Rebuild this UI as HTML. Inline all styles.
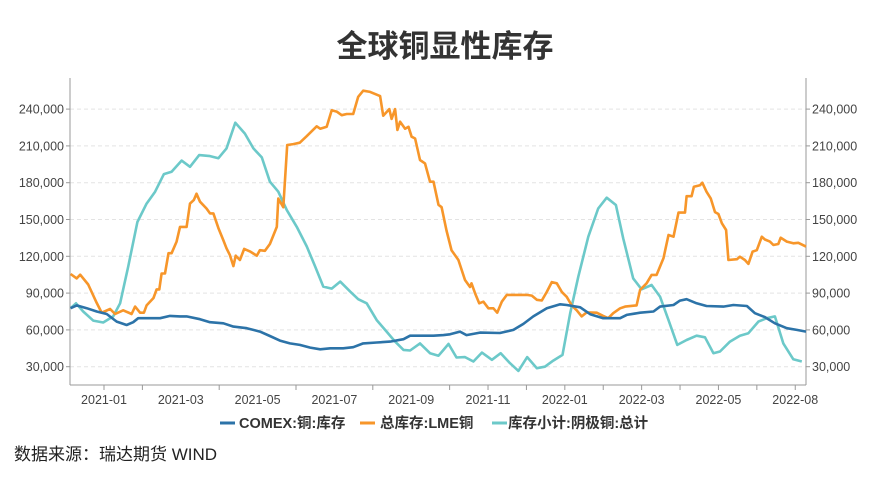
<!DOCTYPE html>
<html><head><meta charset="utf-8"><style>
body{margin:0;background:#fff;width:890px;height:477px;overflow:hidden;font-family:"Liberation Sans","Noto Sans CJK SC",sans-serif;}
svg text{font-family:"Liberation Sans","Noto Sans CJK SC",sans-serif;}
</style></head><body>
<svg id="chart" width="890" height="477" viewBox="0 0 890 477" xmlns="http://www.w3.org/2000/svg">
<text x="445" y="57" text-anchor="middle" font-size="31" font-weight="bold" fill="#333">全球铜显性库存</text>
<g id="grid"></g><g id="axes"></g><g id="series"></g>
<g>
 <g><line x1="220" y1="423" x2="235" y2="423" stroke="#2c73a8" stroke-width="3"/><text x="239" y="428" font-size="14.5" font-weight="bold" fill="#333">COMEX:铜:库存</text></g>
 <g><line x1="360" y1="423" x2="375" y2="423" stroke="#f7962a" stroke-width="3"/><text x="380" y="428" font-size="14.5" font-weight="bold" fill="#333">总库存:LME铜</text></g>
 <g><line x1="492" y1="423" x2="507" y2="423" stroke="#6cc9c9" stroke-width="3"/><text x="508" y="428" font-size="14.5" font-weight="bold" fill="#333">库存小计:阴极铜:总计</text></g>
</g>
<text x="14" y="460" font-size="17" fill="#222">数据来源：瑞达期货 WIND</text>
</svg>
<script>
// x values: months since 2021-01
const lmeT=[-0.87,-0.71,-0.62,-0.41,-0.19,-0.06,0.16,0.29,0.50,0.72,0.81,0.94,1.04,1.11,1.29,1.37,1.44,1.50,1.59,1.68,1.76,1.89,1.98,2.15,2.24,2.34,2.41,2.50,2.67,2.76,2.85,2.98,3.11,3.19,3.28,3.37,3.43,3.54,3.65,3.80,3.98,4.06,4.19,4.32,4.50,4.54,4.67,4.77,4.93,5.10,5.28,5.54,5.63,5.80,5.93,6.06,6.19,6.32,6.49,6.62,6.75,6.93,7.19,7.27,7.43,7.49,7.58,7.64,7.71,7.84,7.93,8.01,8.10,8.23,8.36,8.49,8.58,8.71,8.79,8.92,9.05,9.23,9.40,9.53,9.57,9.66,9.77,9.88,10.01,10.14,10.24,10.36,10.49,10.66,11.01,11.14,11.27,11.40,11.53,11.66,11.79,11.92,12.05,12.18,12.31,12.44,12.57,12.83,13.00,13.13,13.26,13.44,13.57,13.87,13.96,14.13,14.26,14.39,14.57,14.70,14.83,14.96,15.13,15.17,15.30,15.36,15.52,15.58,15.69,15.80,15.91,16.00,16.09,16.20,16.26,16.48,16.56,16.69,16.78,16.89,17.00,17.13,17.21,17.34,17.43,17.56,17.62,17.78,17.95,18.08,18.28];
const lmeV=[105.6,102,105,97,82,74,77,73,76,73,79,74,74,80,86,93,93,106,106,122.5,122.5,132,144,144,163,166,171,164.5,159,155,155,143,133,126.5,121,112,120.5,117,126,124,120.5,125,124.5,130,144,167,160,210.7,211.5,212.6,218,226,224,225.6,239,238,235,236,236,250,255,254,250.6,234.6,240,232,240,223,229.7,224,225.6,217.5,216,198.5,195.7,180.8,180.8,162,160,141,125,117,100.7,95,98,90,81.7,83,77.6,77.6,74,83,88.5,88.5,88.5,88,84.5,84,91,99,98,91,87,80,76,71,74.3,74,71.4,69.5,73.6,77.6,79,80,92.6,98,104.8,104.8,118.5,137.4,136,155.6,155.6,169,169,176.7,178,180,172.7,167,156,154.5,146.9,141.4,117,117.6,119.7,117,113.8,123.8,125,136,133.7,132,129.2,130,135.2,132,130.6,131,127.9];
const cathT=[-0.87,-0.73,-0.54,-0.28,-0.02,0.24,0.42,0.63,0.87,1.11,1.33,1.56,1.76,2.02,2.24,2.48,2.76,2.98,3.19,3.42,3.67,3.89,4.11,4.32,4.54,4.76,5.02,5.28,5.50,5.71,5.93,6.15,6.41,6.62,6.84,7.10,7.36,7.58,7.80,7.97,8.23,8.49,8.71,8.84,8.97,9.18,9.40,9.62,9.84,10.10,10.33,10.57,10.79,11.02,11.27,11.48,11.70,11.94,12.14,12.35,12.61,12.87,13.09,13.33,13.52,13.78,14.00,14.26,14.48,14.70,14.93,15.17,15.43,15.65,15.87,16.04,16.30,16.56,16.78,17.04,17.26,17.47,17.69,17.95,18.17];
const cathV=[77.7,81.7,75,67.6,66,71,81.7,111.6,148,163,172.7,187,189,198,193,202.5,201.7,200,208,228.9,220,208,200.6,180.8,172.7,157.7,144,128,111.6,95.3,93.7,99.4,91.2,85,81.7,68,58.6,50.5,43.7,43.2,49,41,39,43.7,48.6,37.5,37.8,34.2,41.5,35.6,41,32.9,26.6,37.8,28.8,30,35,39.6,73.6,103.4,136,159,167.8,161.8,134.7,102,93.1,96.6,87,68,47.8,51.8,55.3,54,41,42.4,50.5,55.3,57.3,66.8,69.5,71,49,36,34.2];
const comexT=[-0.87,-0.71,-0.45,-0.19,0.07,0.33,0.59,0.76,0.89,1.15,1.46,1.72,1.98,2.15,2.50,2.76,3.11,3.37,3.72,4.06,4.32,4.58,4.84,5.10,5.37,5.63,5.89,6.23,6.49,6.75,7.10,7.45,7.80,7.97,8.32,8.58,8.84,9.01,9.27,9.44,9.79,10.31,10.66,10.92,11.18,11.53,11.88,12.05,12.40,12.66,13.00,13.44,13.61,13.96,14.31,14.48,14.83,15.00,15.17,15.43,15.69,16.13,16.39,16.74,16.95,17.21,17.47,17.78,18.04,18.28];
const comexV=[77.7,80,77.7,75,73,66.8,64,66.3,69.5,69.5,69.5,71.4,71,71,68.7,66.3,65.4,62.7,61.4,58.6,55,51.3,49,47.8,45.6,44.2,45,45,45.9,49,49.7,50.5,52.4,55.3,55.3,55.3,55.8,56.4,58.6,55.8,57.8,57.5,60,64.9,71,77.6,80.9,80.3,78.4,72.8,69.5,69.5,72.2,74,75,79,80.3,83.9,85,81.7,79.5,79,80.3,79.5,73.6,70.4,65.4,61.4,60,58.6];
const yTicks=[30000,60000,90000,120000,150000,180000,210000,240000];
const xLabels=["2021-01","2021-03","2021-05","2021-07","2021-09","2021-11","2022-01","2022-03","2022-05","2022-08"];
const xLabelT=[0,2,4,6,8,10,12,14,16,18];
const xTickT=[0,1,3,5,7,9,10,11,12,13,14,15,16,17,18];

const L=70,R=806,TOP=78,BOT=385;
const xs=t=>L+(t+0.885)*(R-L)/(18.28+0.885);
const ys=v=>403.5-v/30000*36.8;
const NS="http://www.w3.org/2000/svg";
function mk(tag,attrs,parent){const e=document.createElementNS(NS,tag);for(const k in attrs)e.setAttribute(k,attrs[k]);parent.appendChild(e);return e;}
const grid=document.getElementById('grid'),axes=document.getElementById('axes'),ser=document.getElementById('series');
yTicks.forEach(v=>{
 const y=ys(v);
 const g=mk('line',{x1:L,x2:R,y1:y,y2:y,stroke:'#e3e3e3','stroke-dasharray':'4,3'},grid);
 
 
 const lab=v.toLocaleString('en-US');
 const t1=mk('text',{x:L-6,y:y+4.5,'text-anchor':'end','font-size':'12.5',fill:'#444'},axes);t1.textContent=lab;
 
 
 const t2=mk('text',{x:R+6,y:y+4.5,'text-anchor':'start','font-size':'12.5',fill:'#444'},axes);t2.textContent=lab;
 
 
 mk('line',{x1:L-4,x2:L,y1:y,y2:y,stroke:'#999'},axes);
 mk('line',{x1:R,x2:R+4,y1:y,y2:y,stroke:'#999'},axes);
});
const la=mk('line',{x1:L,x2:L,y1:TOP,y2:BOT,stroke:'#999'},axes);


const ra=mk('line',{x1:R,x2:R,y1:TOP,y2:BOT,stroke:'#999'},axes);


const xa=mk('line',{x1:L,x2:R,y1:BOT,y2:BOT,stroke:'#999'},axes);


xTickT.forEach(t=>{mk('line',{x1:xs(t),x2:xs(t),y1:BOT,y2:BOT+5,stroke:'#999'},axes);});
xLabels.forEach((s,i)=>{
 const e=mk('text',{x:xs(xLabelT[i]),y:BOT+19,'text-anchor':'middle','font-size':'12.5',fill:'#444'},axes);e.textContent=s;
 
 
});
function line(T,V,color,name){
 const d=T.map((t,i)=>(i?'L':'M')+xs(t).toFixed(1)+','+ys(V[i]*1000).toFixed(1)).join('');
 const p=mk('path',{d:d,fill:'none',stroke:color,'stroke-width':'2.6','stroke-linejoin':'round'},ser);
 
 
}
line(cathT,cathV,'#6cc9c9','series-cathode-total');
line(lmeT,lmeV,'#f7962a','series-lme-total');
line(comexT,comexV,'#2c73a8','series-comex');
</script>
</body></html>
